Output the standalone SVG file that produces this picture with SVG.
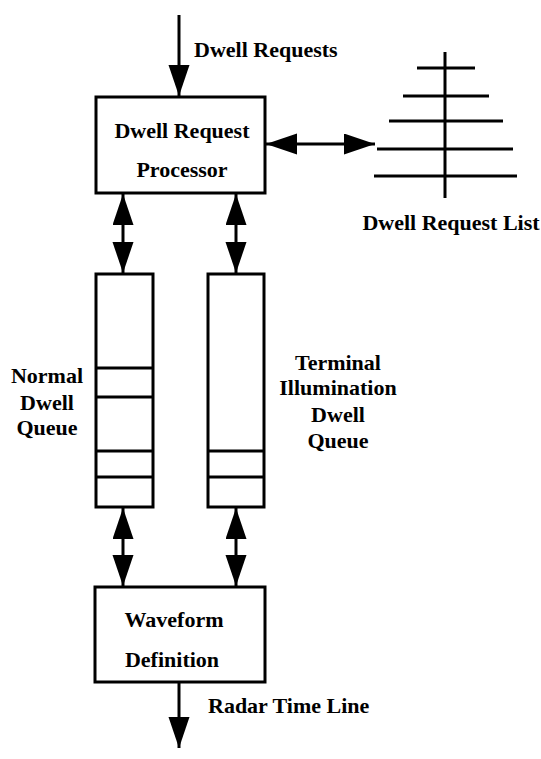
<svg xmlns="http://www.w3.org/2000/svg" width="541" height="759" viewBox="0 0 541 759">
  <style>
    .box { fill: #fff; stroke: #000; stroke-width: 3; }
    .line { fill: none; stroke: #000; stroke-width: 3; }
    .lbl { font-family: "Liberation Serif", "Times New Roman", serif; font-size: 22px; font-weight: bold; fill: #000; }
    .mid { text-anchor: middle; }
  </style>
  <defs>
    <marker id="head" markerUnits="userSpaceOnUse" markerWidth="32" markerHeight="22" refX="31" refY="10.5" orient="auto-start-reverse">
      <path d="M0,0 L31,10.5 L0,21 Z" fill="#000"/>
    </marker>
  </defs>
  <rect width="541" height="759" fill="#fff"/>

  <!-- connectors -->
  <g id="connectors">
    <line class="line" x1="179" y1="15" x2="179" y2="96" marker-end="url(#head)"/>
    <line class="line" x1="266" y1="144" x2="375" y2="144" marker-start="url(#head)" marker-end="url(#head)"/>
    <line class="line" x1="123" y1="194" x2="123" y2="273" marker-start="url(#head)" marker-end="url(#head)"/>
    <line class="line" x1="236" y1="194" x2="236" y2="273" marker-start="url(#head)" marker-end="url(#head)"/>
    <line class="line" x1="123" y1="508" x2="123" y2="586" marker-start="url(#head)" marker-end="url(#head)"/>
    <line class="line" x1="236" y1="508" x2="236" y2="586" marker-start="url(#head)" marker-end="url(#head)"/>
    <line class="line" x1="179" y1="683" x2="179" y2="748" marker-end="url(#head)"/>
  </g>

  <text class="lbl" x="194" y="57">Dwell Requests</text>
  <text class="lbl" x="208" y="713">Radar Time Line</text>

  <g id="request-processor">
    <rect class="box" x="96" y="97" width="169" height="96"/>
    <text class="lbl mid" x="182" y="138">Dwell Request</text>
    <text class="lbl mid" x="182" y="177">Processor</text>
  </g>

  <g id="request-list">
    <line class="line" x1="445" y1="52" x2="445" y2="198"/>
    <line class="line" x1="417" y1="68" x2="475" y2="68"/>
    <line class="line" x1="403" y1="96" x2="489" y2="96"/>
    <line class="line" x1="389" y1="121" x2="503" y2="121"/>
    <line class="line" x1="377" y1="149" x2="513" y2="149"/>
    <line class="line" x1="374" y1="176" x2="517" y2="176"/>
    <text class="lbl mid" x="451" y="230">Dwell Request List</text>
  </g>

  <g id="normal-queue">
    <rect class="box" x="96" y="274" width="57" height="233"/>
    <line class="line" x1="96" y1="368" x2="153" y2="368"/>
    <line class="line" x1="96" y1="397" x2="153" y2="397"/>
    <line class="line" x1="96" y1="451" x2="153" y2="451"/>
    <line class="line" x1="96" y1="477" x2="153" y2="477"/>
    <text class="lbl mid" x="47" y="383">Normal</text>
    <text class="lbl mid" x="47" y="410">Dwell</text>
    <text class="lbl mid" x="47" y="435">Queue</text>
  </g>

  <g id="terminal-queue">
    <rect class="box" x="208" y="274" width="56" height="233"/>
    <line class="line" x1="208" y1="451" x2="264" y2="451"/>
    <line class="line" x1="208" y1="477" x2="264" y2="477"/>
    <text class="lbl mid" x="338" y="370">Terminal</text>
    <text class="lbl mid" x="338" y="395">Illumination</text>
    <text class="lbl mid" x="338" y="422">Dwell</text>
    <text class="lbl mid" x="338" y="448">Queue</text>
  </g>

  <g id="waveform-definition">
    <rect class="box" x="95" y="587" width="170" height="95"/>
    <text class="lbl mid" x="174" y="627">Waveform</text>
    <text class="lbl mid" x="172" y="667">Definition</text>
  </g>
</svg>
